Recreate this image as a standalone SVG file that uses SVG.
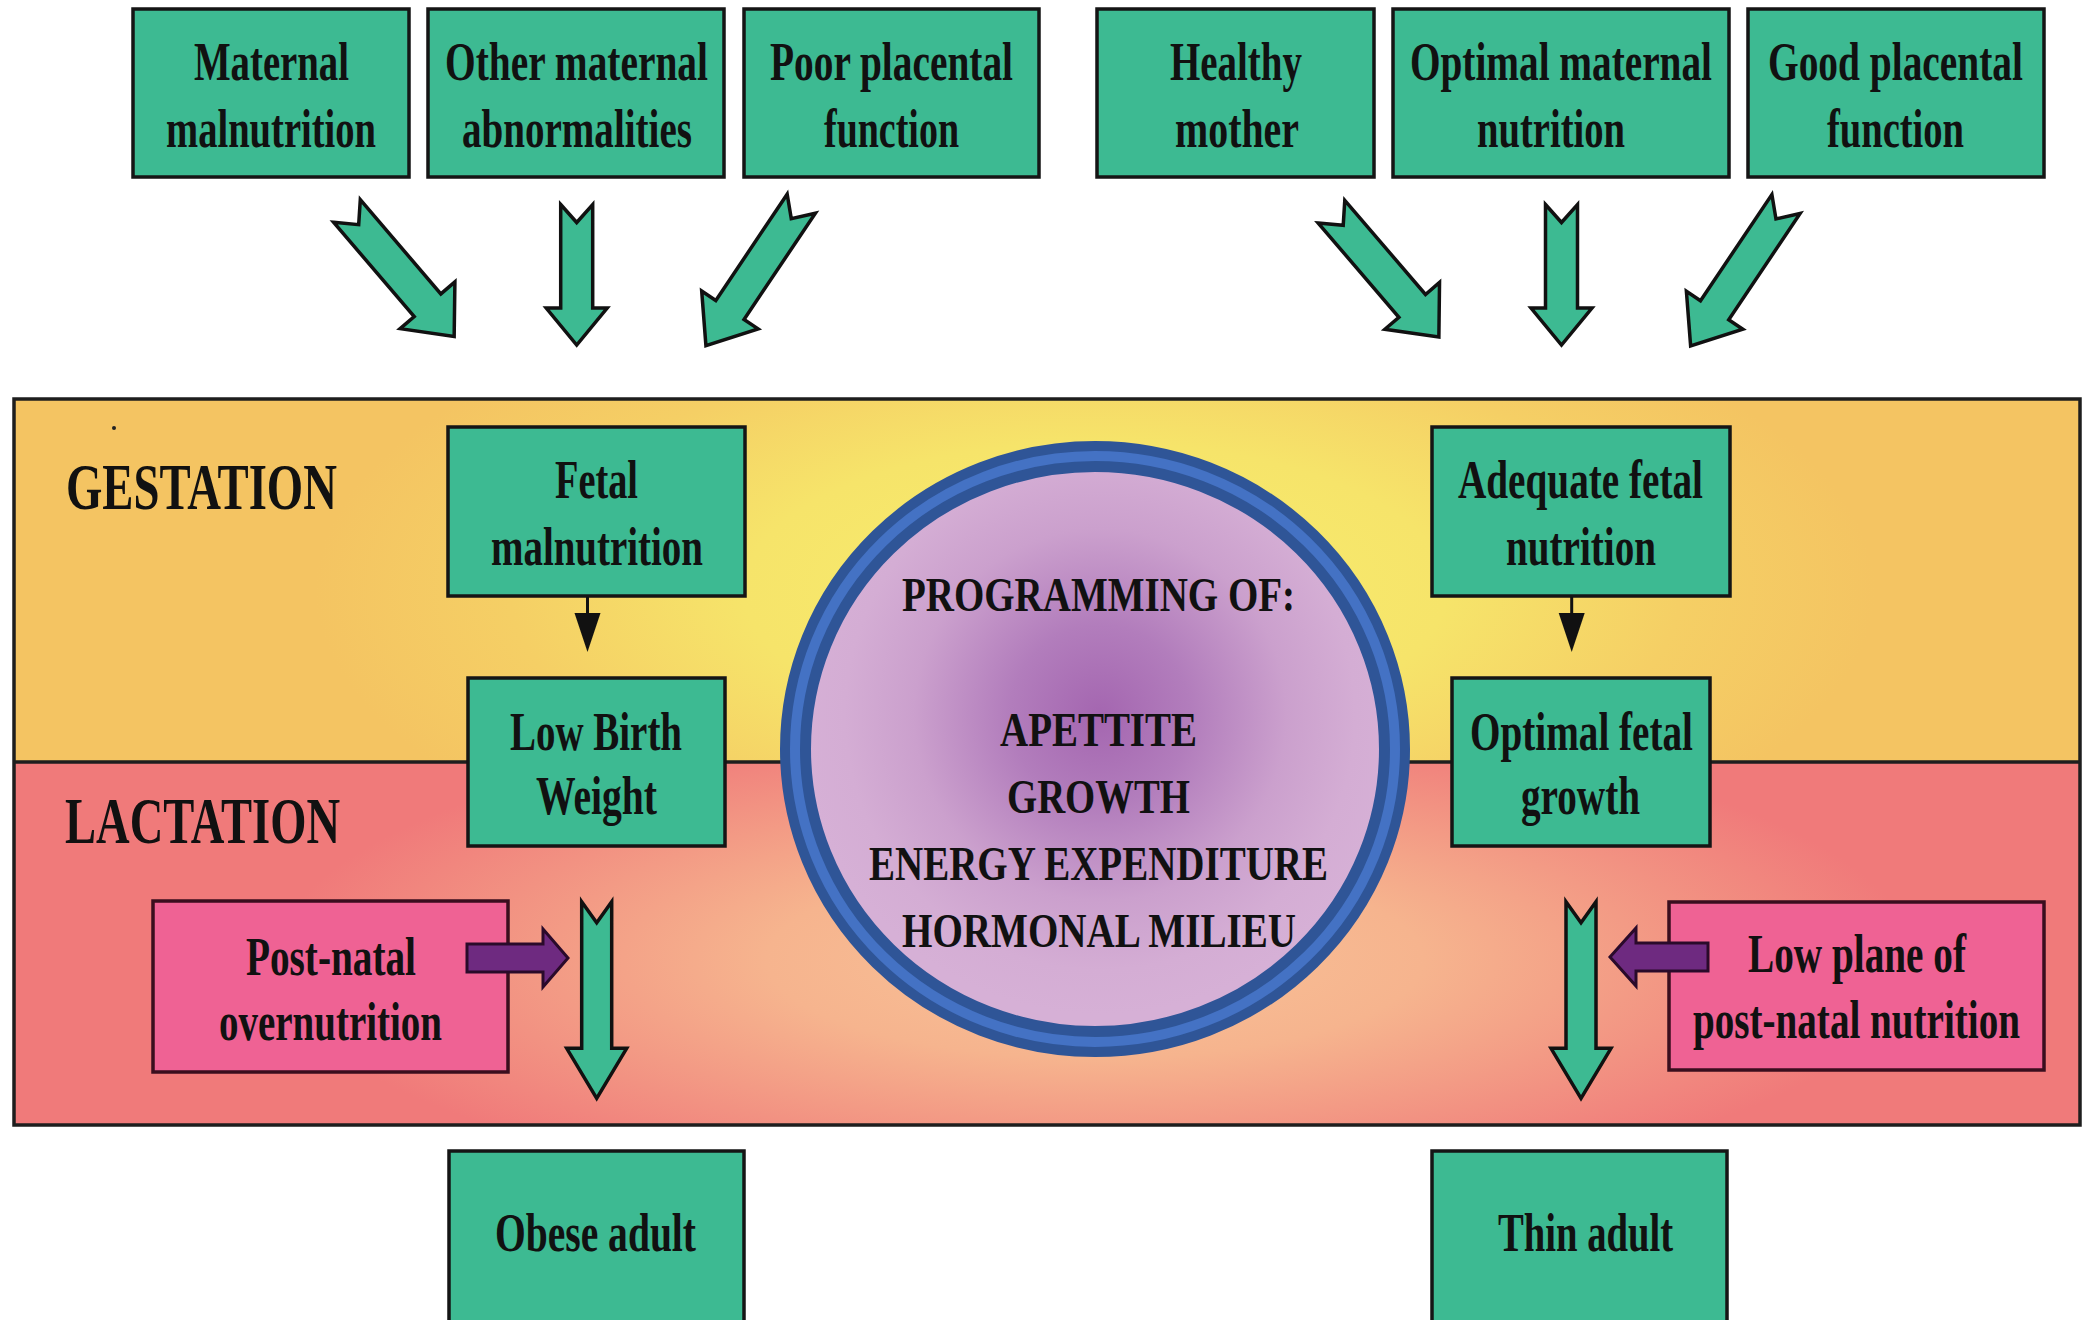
<svg xmlns="http://www.w3.org/2000/svg" xmlns:xlink="http://www.w3.org/1999/xlink" width="2083" height="1320" viewBox="0 0 2083 1320">
<style>
.t{font-family:"Liberation Serif","Times New Roman",serif;font-weight:bold;font-size:55px;fill:#111;}
.tc{font-family:"Liberation Serif","Times New Roman",serif;font-weight:bold;font-size:48px;fill:#111;}
.tl{font-family:"Liberation Serif","Times New Roman",serif;font-weight:bold;font-size:66px;fill:#111;}
.gbox{fill:#3DBA92;stroke:#151515;stroke-width:3.5;}
.pbox{fill:#EF6294;stroke:#3A0E1E;stroke-width:3.5;}
.garrow{fill:#3DBA92;stroke:#111;stroke-width:3.5;stroke-linejoin:miter;}
.parrow{fill:#6E2A80;stroke:#2A0A2A;stroke-width:3;stroke-linejoin:miter;}
.thin{stroke:#111;stroke-width:3;fill:none;}
</style>
<defs>
<radialGradient id="gest" gradientUnits="userSpaceOnUse" cx="1095" cy="590" r="780" gradientTransform="translate(1095 590) scale(1 0.42) translate(-1095 -590)">
<stop offset="0" stop-color="#F8EE6E"/>
<stop offset="0.45" stop-color="#F6E46A"/>
<stop offset="0.75" stop-color="#F5CF65"/>
<stop offset="1" stop-color="#F4C462"/>
</radialGradient>
<radialGradient id="lact" gradientUnits="userSpaceOnUse" cx="1095" cy="960" r="820" gradientTransform="translate(1095 960) scale(1 0.3) translate(-1095 -960)">
<stop offset="0" stop-color="#F8C298"/>
<stop offset="0.4" stop-color="#F6B48E"/>
<stop offset="0.75" stop-color="#F29282"/>
<stop offset="1" stop-color="#F07A7A"/>
</radialGradient>
<radialGradient id="lilac" gradientUnits="userSpaceOnUse" cx="1100" cy="715" r="300">
<stop offset="0" stop-color="#A466B0"/>
<stop offset="0.3" stop-color="#B27DBC"/>
<stop offset="0.62" stop-color="#CBA0CD"/>
<stop offset="0.85" stop-color="#D4ADD4"/>
<stop offset="1" stop-color="#D6B0D6"/>
</radialGradient>
<polygon id="arrA" class="garrow" points="-17.5,0 0,18 17.5,0 17.5,124 36,124 0,165 -36,124 -17.5,124"/>
<polygon id="arrC" class="garrow" points="-17,0 0,18 17,0 17,128 34,128 0,171 -34,128 -17,128"/>
<polygon id="arrV" class="garrow" points="-16,0 0,18 16,0 16,103.5 30.5,103.5 0,140.5 -30.5,103.5 -16,103.5"/>
<polygon id="arrT" class="garrow" points="-15,0 0,21 15,0 15,146.6 30,146.6 0,196.6 -30,146.6 -15,146.6"/>
</defs>
<rect width="2083" height="1320" fill="#FFFFFF"/>

<g id="panel">
<rect x="14" y="399" width="2066" height="363" fill="url(#gest)"/>
<rect x="14" y="762" width="2066" height="363" fill="url(#lact)"/>
<rect x="14" y="399" width="2066" height="726" fill="none" stroke="#1E1E1E" stroke-width="3.5"/>
<line x1="14" y1="762" x2="2080" y2="762" stroke="#1E1E1E" stroke-width="3.5"/>
<circle cx="114" cy="428" r="2" fill="#222"/>
<text class="tl" transform="translate(66 509) scale(0.7 1)" textLength="387.1" lengthAdjust="spacingAndGlyphs">GESTATION</text>
<text class="tl" transform="translate(65 843) scale(0.7 1)" textLength="392.9" lengthAdjust="spacingAndGlyphs">LACTATION</text>
</g>

<g id="programming">
<ellipse cx="1095" cy="749" rx="299.5" ry="292.5" fill="url(#lilac)" stroke="#2F5597" stroke-width="31"/>
<ellipse cx="1095" cy="749" rx="300" ry="293" fill="none" stroke="#4472C4" stroke-width="10"/>
<text class="tc" transform="translate(902 611) scale(0.8 1)" textLength="491.25" lengthAdjust="spacingAndGlyphs">PROGRAMMING OF:</text>
<text class="tc" transform="translate(1000 746) scale(0.8 1)" textLength="246.25" lengthAdjust="spacingAndGlyphs">APETTITE</text>
<text class="tc" transform="translate(1007 813) scale(0.8 1)" textLength="228.75" lengthAdjust="spacingAndGlyphs">GROWTH</text>
<text class="tc" transform="translate(869 880) scale(0.8 1)" textLength="573.75" lengthAdjust="spacingAndGlyphs">ENERGY EXPENDITURE</text>
<text class="tc" transform="translate(902 947) scale(0.8 1)" textLength="492.5" lengthAdjust="spacingAndGlyphs">HORMONAL MILIEU</text>
</g>

<g id="nodes">
<g id="maternal-malnutrition">
<rect class="gbox" x="133" y="9" width="276" height="168"/>
<text class="t" transform="translate(194 80) scale(0.72 1)" textLength="215.3" lengthAdjust="spacingAndGlyphs">Maternal</text>
<text class="t" transform="translate(166 147) scale(0.72 1)" textLength="291.7" lengthAdjust="spacingAndGlyphs">malnutrition</text>
</g>
<g id="other-maternal-abnormalities">
<rect class="gbox" x="428" y="9" width="296" height="168"/>
<text class="t" transform="translate(445 80) scale(0.72 1)" textLength="365.3" lengthAdjust="spacingAndGlyphs">Other maternal</text>
<text class="t" transform="translate(462 147) scale(0.72 1)" textLength="319.4" lengthAdjust="spacingAndGlyphs">abnormalities</text>
</g>
<g id="poor-placental-function">
<rect class="gbox" x="744" y="9" width="295" height="168"/>
<text class="t" transform="translate(770 80) scale(0.72 1)" textLength="337.5" lengthAdjust="spacingAndGlyphs">Poor placental</text>
<text class="t" transform="translate(824 147) scale(0.72 1)" textLength="187.5" lengthAdjust="spacingAndGlyphs">function</text>
</g>
<g id="healthy-mother">
<rect class="gbox" x="1097" y="9" width="277" height="168"/>
<text class="t" transform="translate(1170 80) scale(0.72 1)" textLength="183.3" lengthAdjust="spacingAndGlyphs">Healthy</text>
<text class="t" transform="translate(1175 147) scale(0.72 1)" textLength="172.2" lengthAdjust="spacingAndGlyphs">mother</text>
</g>
<g id="optimal-maternal-nutrition">
<rect class="gbox" x="1393" y="9" width="336" height="168"/>
<text class="t" transform="translate(1410 80) scale(0.72 1)" textLength="419.4" lengthAdjust="spacingAndGlyphs">Optimal maternal</text>
<text class="t" transform="translate(1477 147) scale(0.72 1)" textLength="205.6" lengthAdjust="spacingAndGlyphs">nutrition</text>
</g>
<g id="good-placental-function">
<rect class="gbox" x="1748" y="9" width="296" height="168"/>
<text class="t" transform="translate(1768 80) scale(0.72 1)" textLength="354.2" lengthAdjust="spacingAndGlyphs">Good placental</text>
<text class="t" transform="translate(1827 147) scale(0.72 1)" textLength="190.3" lengthAdjust="spacingAndGlyphs">function</text>
</g>
<g id="fetal-malnutrition">
<rect class="gbox" x="448" y="427" width="297" height="169"/>
<text class="t" transform="translate(555 498) scale(0.72 1)" textLength="115.3" lengthAdjust="spacingAndGlyphs">Fetal</text>
<text class="t" transform="translate(491 565) scale(0.72 1)" textLength="294.4" lengthAdjust="spacingAndGlyphs">malnutrition</text>
</g>
<g id="low-birth-weight">
<rect class="gbox" x="468" y="678" width="257" height="168"/>
<text class="t" transform="translate(510 750) scale(0.72 1)" textLength="238.9" lengthAdjust="spacingAndGlyphs">Low Birth</text>
<text class="t" transform="translate(536 814) scale(0.72 1)" textLength="168.1" lengthAdjust="spacingAndGlyphs">Weight</text>
</g>
<g id="adequate-fetal-nutrition">
<rect class="gbox" x="1432" y="427" width="298" height="169"/>
<text class="t" transform="translate(1458 498) scale(0.72 1)" textLength="340.3" lengthAdjust="spacingAndGlyphs">Adequate fetal</text>
<text class="t" transform="translate(1506 565) scale(0.72 1)" textLength="208.3" lengthAdjust="spacingAndGlyphs">nutrition</text>
</g>
<g id="optimal-fetal-growth">
<rect class="gbox" x="1452" y="678" width="258" height="168"/>
<text class="t" transform="translate(1470 750) scale(0.72 1)" textLength="309.7" lengthAdjust="spacingAndGlyphs">Optimal fetal</text>
<text class="t" transform="translate(1521 814) scale(0.72 1)" textLength="165.3" lengthAdjust="spacingAndGlyphs">growth</text>
</g>
<g id="post-natal-overnutrition">
<rect class="pbox" x="153" y="901" width="355" height="171"/>
<text class="t" transform="translate(246 975) scale(0.72 1)" textLength="236.1" lengthAdjust="spacingAndGlyphs">Post-natal</text>
<text class="t" transform="translate(219 1040) scale(0.72 1)" textLength="309.7" lengthAdjust="spacingAndGlyphs">overnutrition</text>
</g>
<g id="low-plane-post-natal-nutrition">
<rect class="pbox" x="1669" y="902" width="375" height="168"/>
<text class="t" transform="translate(1748 972) scale(0.72 1)" textLength="302.8" lengthAdjust="spacingAndGlyphs">Low plane of</text>
<text class="t" transform="translate(1693 1038) scale(0.72 1)" textLength="454.2" lengthAdjust="spacingAndGlyphs">post-natal nutrition</text>
</g>
<g id="obese-adult">
<rect class="gbox" x="449" y="1151" width="295" height="180"/>
<text class="t" transform="translate(495 1251) scale(0.72 1)" textLength="279.2" lengthAdjust="spacingAndGlyphs">Obese adult</text>
</g>
<g id="thin-adult">
<rect class="gbox" x="1432" y="1151" width="295" height="180"/>
<text class="t" transform="translate(1498 1251) scale(0.72 1)" textLength="243.1" lengthAdjust="spacingAndGlyphs">Thin adult</text>
</g>
</g>

<g id="connectors">
<use xlink:href="#arrA" href="#arrA" transform="translate(347 211) rotate(-40.5)"/>
<use xlink:href="#arrV" href="#arrV" transform="translate(576.7 204.5)"/>
<use xlink:href="#arrC" href="#arrC" transform="translate(801.3 203.7) rotate(33.9)"/>
<use xlink:href="#arrA" href="#arrA" transform="translate(1331.5 211.7) rotate(-40.6)"/>
<use xlink:href="#arrV" href="#arrV" transform="translate(1561.5 204.5)"/>
<use xlink:href="#arrC" href="#arrC" transform="translate(1786 204) rotate(33.9)"/>
<line class="thin" x1="587.5" y1="597" x2="587.5" y2="616"/>
<polygon points="574.5,613 600.5,613 587.5,652" fill="#111"/>
<line class="thin" x1="1571.7" y1="597" x2="1571.7" y2="616"/>
<polygon points="1558.7,613 1584.7,613 1571.7,652" fill="#111"/>
<use xlink:href="#arrT" href="#arrT" transform="translate(596.7 901.7)"/>
<use xlink:href="#arrT" href="#arrT" transform="translate(1581 901.7)"/>
<polygon class="parrow" points="467,944 543,944 543,929 568,958 543,987 543,972 467,972"/>
<polygon class="parrow" points="1708,943 1636,943 1636,928 1610,957 1636,986 1636,971 1708,971"/>
</g>
</svg>
